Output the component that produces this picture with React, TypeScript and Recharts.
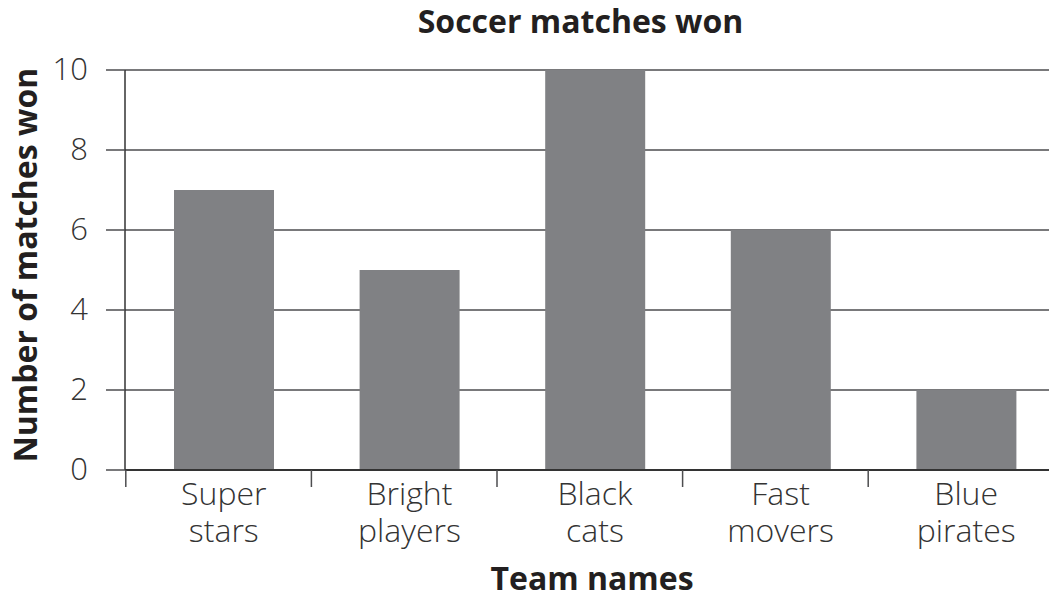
import React from 'react';
import { BarChart, Bar, XAxis, YAxis, CartesianGrid } from 'recharts';

const categories = ['Super stars', 'Bright players', 'Black cats', 'Fast movers', 'Blue pirates'];
const matchesWon = [7, 5, 10, 6, 2];
const yTicks = [0, 2, 4, 6, 8, 10];

const data = categories.map((name, i) => ({ name, won: matchesWon[i] }));

const FONT = '"Open Sans", "Noto Sans", sans-serif';
const LINE = '#4d4d4f';

const XTick = (props: any) => {
  const { x, y, payload } = props;
  const words = String(payload.value).split(' ');
  return (
    <g>
      <line x1={x - 98} y1={y} x2={x - 98} y2={y + 17} stroke={LINE} strokeWidth={1.5} />
      <text x={x} y={y + 35} textAnchor="middle" fontFamily={FONT} fontWeight={300} fontSize={32} fill="#333">
        {words.map((w, i) => (
          <tspan key={i} x={x} dy={i === 0 ? 0 : 37}>{w}</tspan>
        ))}
      </text>
    </g>
  );
};

const YTick = (props: any) => {
  const { x, y, payload } = props;
  return (
    <text x={x} y={y + 10} textAnchor="end" fontFamily={FONT} fontWeight={300} fontSize={31} fill="#333">
      {payload.value}
    </text>
  );
};

export default function App() {
  return (
    <div style={{ position: 'absolute', left: 0, top: 0, width: 1049, height: 598, overflow: 'hidden', background: '#fff' }}>
      <div
        style={{
          position: 'absolute', left: 0, top: 1, width: 1161, textAlign: 'center',
          fontFamily: FONT, fontWeight: 700, fontSize: 32, lineHeight: '40px', color: '#231f20',
        }}
      >
        Soccer matches won
      </div>
      <BarChart width={1059} height={598} data={data} margin={{ top: 70, right: 0, bottom: 0, left: 0 }} barSize={100}>
        <CartesianGrid vertical={false} stroke={LINE} strokeWidth={1.5} />
        <XAxis
          dataKey="name"
          height={128}
          padding={{ left: 6, right: 0 }}
          tickSize={0}
          tickMargin={0}
          tickLine={false}
          axisLine={{ stroke: '#333', strokeWidth: 2 }}
          tick={<XTick />}
          interval={0}
          label={{
            content: (p: any) => {
              const vb = p.viewBox;
              return (
                <text x={vb.x + vb.width / 2} y={vb.y + 120} textAnchor="middle" fontFamily={FONT} fontWeight={700} fontSize={32} fill="#231f20">
                  Team names
                </text>
              );
            },
          }}
        />
        <YAxis
          width={125}
          domain={[0, 10]}
          ticks={yTicks}
          interval={0}
          tickSize={19}
          tickMargin={18}
          tickLine={{ stroke: LINE, strokeWidth: 1.5 }}
          axisLine={{ stroke: '#333', strokeWidth: 1.5 }}
          tick={<YTick />}
          label={{
            content: (p: any) => {
              const vb = p.viewBox;
              const cx = vb.x + 37;
              const cy = vb.y + vb.height / 2 - 5;
              return (
                <text x={cx} y={cy} transform={`rotate(-90, ${cx}, ${cy})`} textAnchor="middle" fontFamily={FONT} fontWeight={700} fontSize={32} fill="#231f20">
                  Number of matches won
                </text>
              );
            },
          }}
        />
        <Bar dataKey="won" fill="#808184" isAnimationActive={false} />
      </BarChart>
    </div>
  );
}
